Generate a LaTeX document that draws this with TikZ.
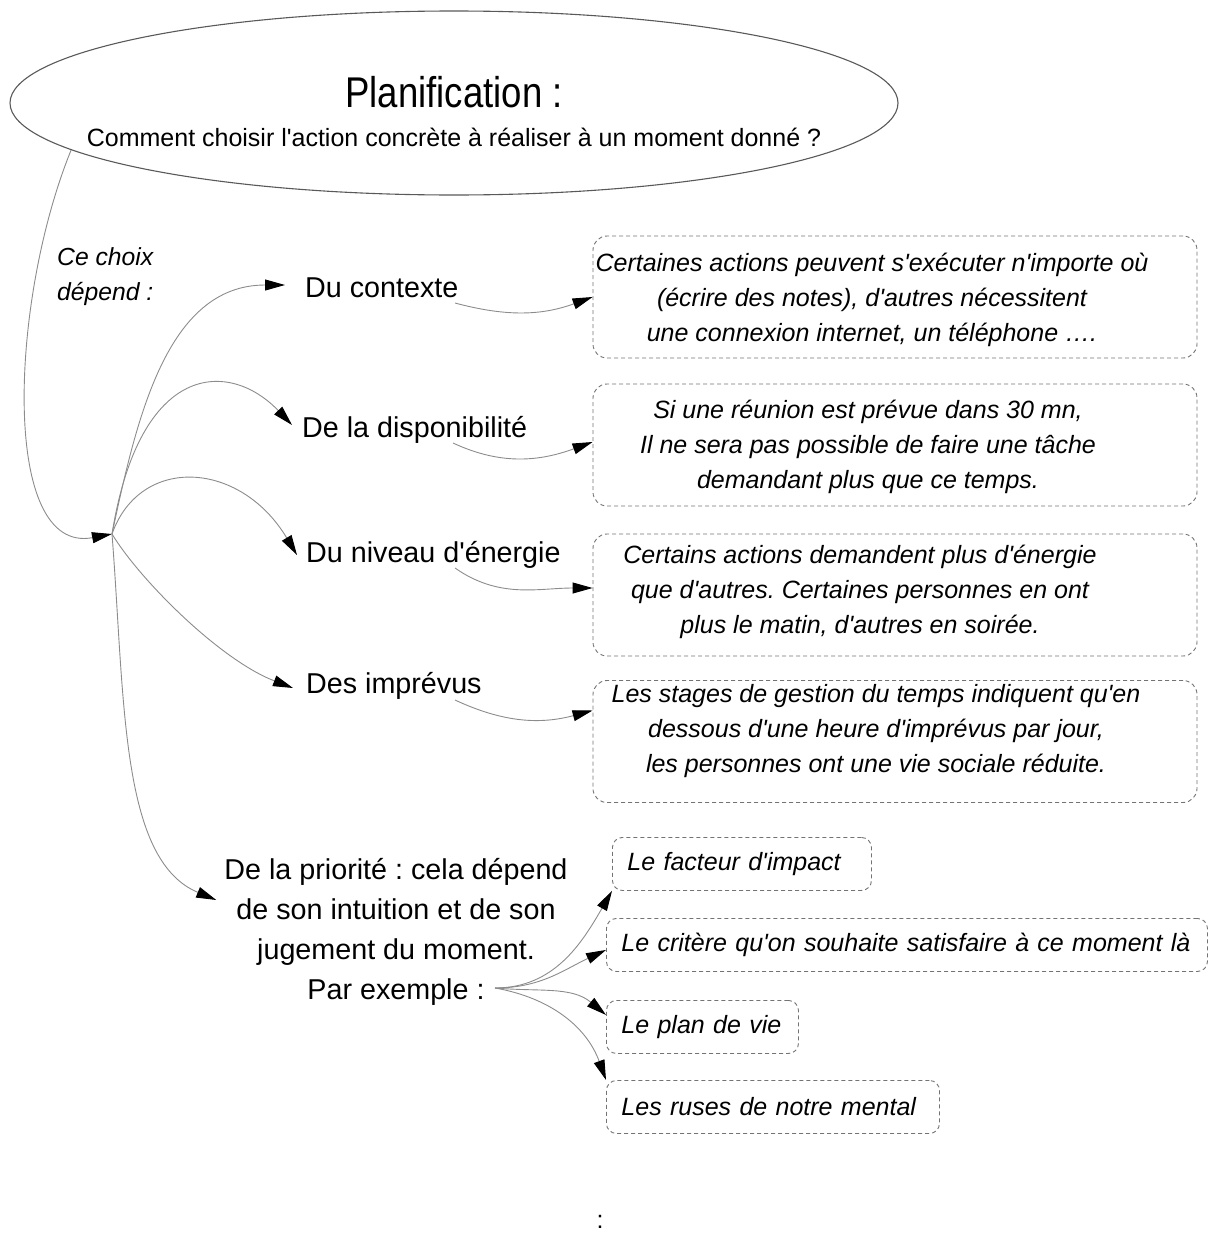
\documentclass[tikz,border=0pt]{standalone}
\usepackage{fontspec}
\setmainfont{Liberation Sans}[Ligatures=TeXOff]
\newfontfamily\narrowsans{Liberation Sans}[FakeStretch=0.85]
\usetikzlibrary{shapes.geometric,arrows.meta}
\frenchspacing

\begin{document}
\begin{tikzpicture}[x=1pt,y=1pt,
		link/.style={draw=black!45, line width=0.9pt, -{Triangle[length=20pt,width=11pt,color=black]}},
		branch/.style={anchor=base west, inner sep=0pt, font=\fontsize{28.7}{34}\selectfont},
		notebox/.style={draw=black!55, line width=0.9pt, dash pattern=on 4pt off 3pt, rounded corners=14pt, minimum width=604pt, minimum height=122pt, inner sep=0pt},
		note/.style={align=center, inner sep=0pt, font=\itshape\fontsize{25}{35}\selectfont},
		pick/.style={draw=black!55, line width=0.9pt, dash pattern=on 4pt off 3pt, rounded corners=10pt, anchor=north west, align=left, inner xsep=15pt, inner ysep=0pt, minimum height=53pt, font=\itshape\fontsize{25}{30}\selectfont}]
		 	\useasboundingbox (0,0) rectangle (1208,-1234);
		 	
		 	% question
		 	\node[draw=black!65, line width=1.1pt, ellipse, minimum width=888pt, minimum height=184pt, inner sep=0pt] (plan) at (454,-103) {};
		 	\node[anchor=base, inner sep=0pt, font=\narrowsans\fontsize{43}{46}\selectfont] (title) at (454,-107) {Planification :};
		 	\node[anchor=base, inner sep=0pt, font=\fontsize{25}{30}\selectfont] (question) at (454,-146) {Comment choisir l'action concrète à réaliser à un moment donné ?};
		 	
		 	% ce choix depend
		 	\node[anchor=north west, align=left, inner sep=0pt, font=\itshape\fontsize{24.7}{35}\selectfont] (why) at (57,-247) {Ce choix\\dépend :};
		 	\coordinate (hub) at (112,-534);
		 	\draw[link] (plan.187) .. controls (10,-300) and (0,-555) .. (hub);
		 	
		 	% criteria
		 	\node[branch] (ctx) at (305,-297) {Du contexte};
		 	\node[branch] (dispo) at (302,-437) {De la disponibilité};
		 	\node[branch] (energy) at (306,-562) {Du niveau d'énergie};
		 	\node[branch] (hazard) at (306,-693) {Des imprévus};
		 	\node[align=center, inner sep=0pt, font=\fontsize{28.7}{40}\selectfont] (prio) at (396,-932) {De la priorité : cela dépend\\de son intuition et de son\\jugement du moment.\\Par exemple :};
		 	
		 	\draw[link] (hub) to[out=78,in=180] ([shift={(-20,12)}]ctx.base west);
		 	\draw[link] (hub) .. controls (140,-360) and (230,-360) .. ([shift={(-10,12)}]dispo.base west);
		 	\draw[link] (hub) .. controls (140,-455) and (240,-460) .. ([shift={(-9,7)}]energy.base west);
		 	\draw[link] (hub) .. controls (140,-580) and (220,-660) .. ([shift={(-13,5)}]hazard.base west);
		 	\draw[link] (hub) .. controls (125,-700) and (120,-860) .. ([shift={(-8,32)}]prio.west);
		 	
		 	% explanations
		 	\foreach \i/\y/\tx/\ty/\txt in {
		 		1/297/872/299.5/{Certaines actions peuvent s'exécuter n'importe où\\(écrire des notes), d'autres nécessitent\\une connexion internet, un téléphone ….},
		 		2/445/868/446.5/{Si une réunion est prévue dans 30 mn,\\Il ne sera pas possible de faire une tâche\\demandant plus que ce temps.},
		 		3/595/860/591.5/{Certains actions demandent plus d'énergie\\que d'autres. Certaines personnes en ont\\plus le matin, d'autres en soirée.},
		 		4/741.5/876/731.5/{Les stages de gestion du temps indiquent qu'en\\dessous d'une heure d'imprévus par jour,\\les personnes ont une vie sociale réduite.}}{
		 		\node[notebox] (box\i) at (895,-\y) {};
		 		\node[note] (note\i) at (\tx,-\ty) {\txt};
		 	}
		 	
		 	\draw[link] ([shift={(150,-6)}]ctx.base west) to[out=-15,in=200] (box1.west);
		 	\draw[link] ([shift={(151,-6)}]dispo.base west) to[out=-25,in=200] ([yshift=3pt]box2.west);
		 	\draw[link] ([shift={(149,-6)}]energy.base west) to[out=-35,in=180] ([yshift=7pt]box3.west);
		 	\draw[link] ([shift={(149,-7)}]hazard.base west) to[out=-25,in=195] ([yshift=31pt]box4.west);
		 	
		 	% examples
		 	\node[pick, text width=229pt] (pick1) at (612,-837) {Le facteur d'impact};
		 	\node[pick, text width=571pt] (pick2) at (606,-918) {Le critère qu'on souhaite satisfaire à ce moment là};
		 	\node[pick, text width=162pt] (pick3) at (606,-1000) {Le plan de vie};
		 	\node[pick, text width=303pt] (pick4) at (606,-1080) {Les ruses de notre mental};
		 	
		 	\coordinate (ex) at (495,-988);
		 	\draw[link] (ex) to[out=0,in=240] (pick1.south west);
		 	\draw[link] (ex) to[out=0,in=205] ([yshift=-5pt]pick2.west);
		 	\draw[link] (ex) to[out=-5,in=140] ([yshift=12pt]pick3.west);
		 	\draw[link] (ex) to[out=-10,in=110] (pick4.north west);
		 	
		 	\node[anchor=base, inner sep=0pt, font=\fontsize{25}{30}\selectfont] (dots) at (600,-1228) {:};
\end{tikzpicture}
\end{document}
